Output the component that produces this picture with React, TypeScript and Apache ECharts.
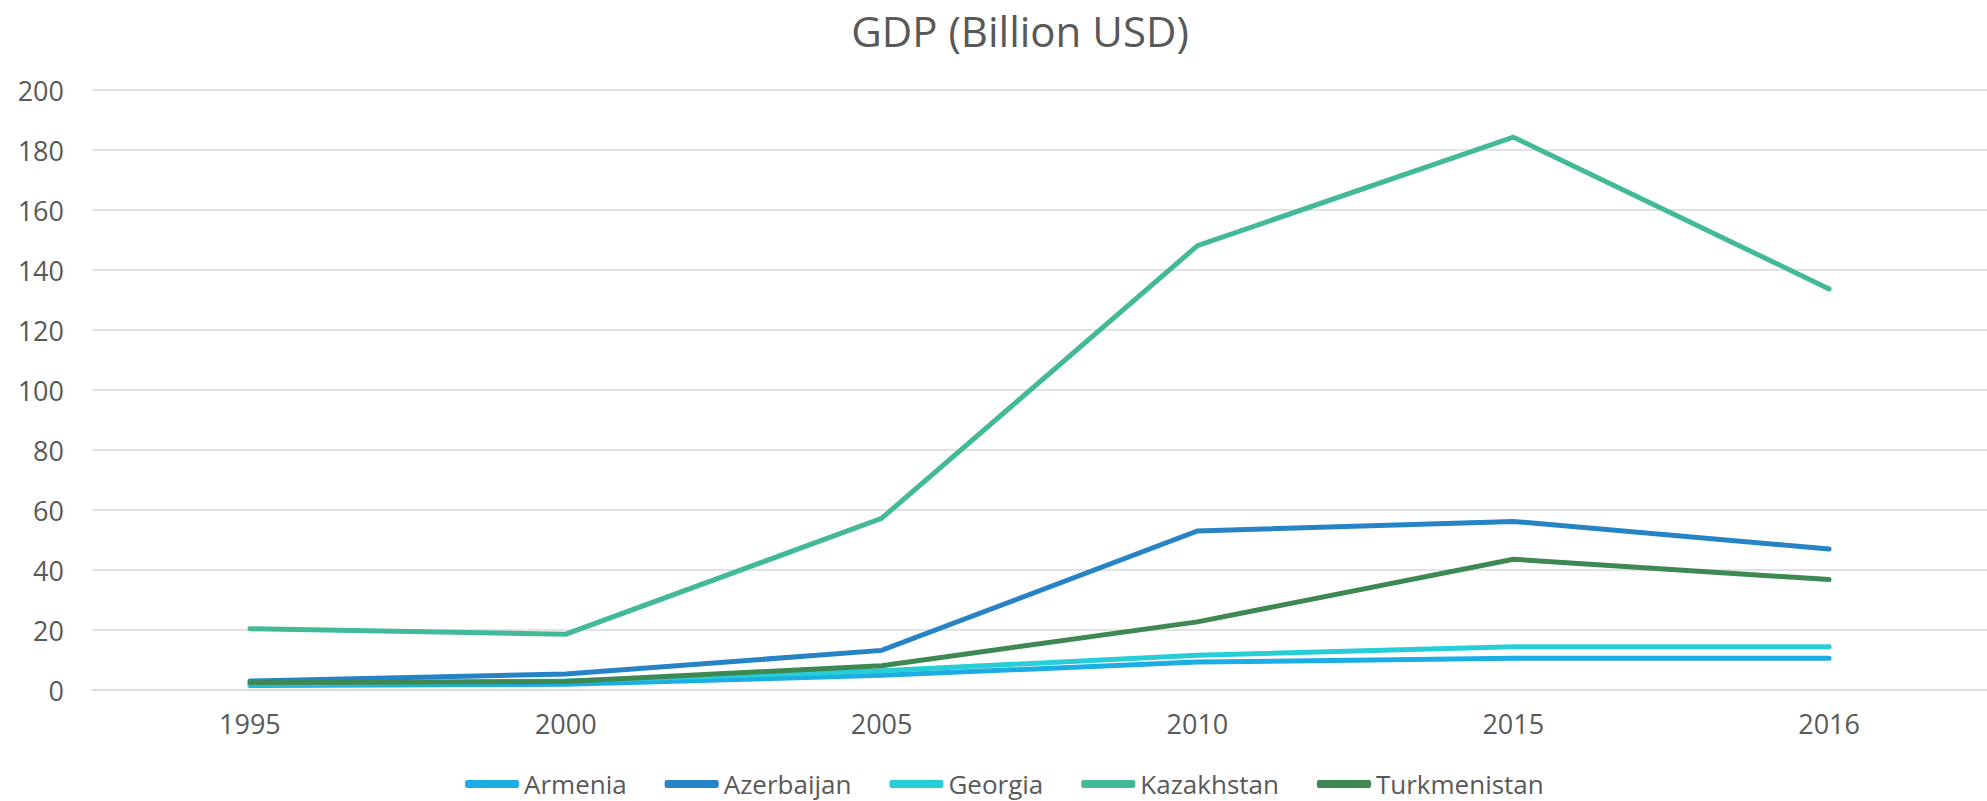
import React, { useEffect, useRef } from "react";
import * as echarts from "echarts";

const years = ["1995", "2000", "2005", "2010", "2015", "2016"];
const armenia = [1.5, 1.9, 4.9, 9.3, 10.6, 10.6];
const azerbaijan = [3.0, 5.3, 13.2, 53.0, 56.2, 47.0];
const georgia = [2.0, 3.0, 6.4, 11.6, 14.4, 14.4];
const kazakhstan = [20.4, 18.6, 57.2, 148.1, 184.3, 133.7];
const turkmenistan = [2.4, 2.8, 8.1, 22.7, 43.6, 36.8];

const seriesNames = ["Armenia", "Azerbaijan", "Georgia", "Kazakhstan", "Turkmenistan"];
const seriesData = [armenia, azerbaijan, georgia, kazakhstan, turkmenistan];
const colors = ["#1CADE4", "#2683C6", "#27CED7", "#42BA97", "#3E8853"];

const FONT = "'Open Sans', 'DejaVu Sans', sans-serif";
const TEXT = "#595959";

export default function App() {
  const ref = useRef<HTMLDivElement>(null);
  useEffect(() => {
    document.body.style.margin = "0";
    document.body.style.overflow = "hidden";
    const chart = echarts.init(ref.current!, null, { renderer: "svg" });
    chart.setOption({
      animation: false,
      backgroundColor: "#ffffff",
      color: colors,
      title: {
        text: "GDP (Billion USD)",
        left: 1015,
        top: 4,
        textAlign: "center",
        textStyle: { fontFamily: FONT, fontSize: 42, fontWeight: "normal", color: TEXT },
      },
      grid: { left: 92, top: 90, width: 1914, height: 600, containLabel: false },
      xAxis: {
        type: "category",
        data: years,
        boundaryGap: true,
        axisTick: { show: false },
        axisLine: { show: true, lineStyle: { color: "#D9D9D9", width: 1.5 } },
        axisLabel: { fontFamily: FONT, fontSize: 27, color: TEXT, margin: 20 },
      },
      yAxis: {
        type: "value",
        min: 0,
        max: 200,
        interval: 20,
        axisLine: { show: false },
        axisTick: { show: false },
        splitLine: { lineStyle: { color: "#D9D9D9", width: 1.5 } },
        axisLabel: { fontFamily: FONT, fontSize: 27, color: TEXT, margin: 28 },
      },
      legend: {
        left: 460,
        top: 766,
        icon: "roundRect",
        itemWidth: 54,
        itemHeight: 8,
        itemGap: 38,
        textStyle: { fontFamily: FONT, fontSize: 26, color: TEXT },
        data: seriesNames,
      },
      series: seriesNames.map((name, i) => ({
        name,
        type: "line",
        data: seriesData[i],
        showSymbol: false,
        symbol: "none",
        lineStyle: { width: 5, color: colors[i], cap: "round", join: "miter" },
        itemStyle: { color: colors[i] },
      })),
    });
    return () => chart.dispose();
  }, []);
  return <div ref={ref} style={{ width: 1987, height: 801 }} />;
}
